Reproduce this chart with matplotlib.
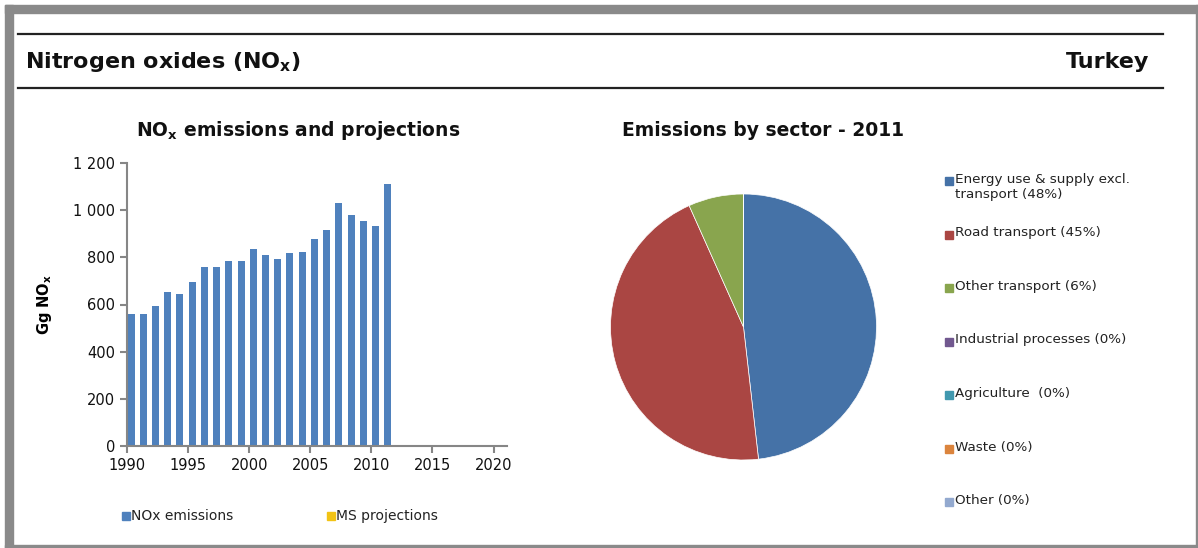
import numpy as np
import matplotlib
matplotlib.use("Agg")
import matplotlib.pyplot as plt
from matplotlib.patches import Rectangle
from matplotlib.lines import Line2D

# datos de la grafica de barras (Gg NOx)
years = list(range(1990, 2012))
nox = [559, 559, 594, 651, 645, 696, 757, 757, 784, 784, 835,
       808, 791, 817, 824, 877, 915, 1030, 980, 955, 933, 1112]
y_ticks = [0, 200, 400, 600, 800, 1000, 1200]
y_tick_labels = ["0", "200", "400", "600", "800", "1 000", "1 200"]
x_ticks = [1990, 1995, 2000, 2005, 2010, 2015, 2020]

# datos del pastel (2011)
sectors = ["Energy use & supply excl.\ntransport (48%)", "Road transport (45%)",
           "Other transport (6%)", "Industrial processes (0%)",
           "Agriculture  (0%)", "Waste (0%)", "Other (0%)"]
shares = [48.2, 45.1, 6.7, 0, 0, 0, 0]
sector_colors = ["#4572A7", "#AA4643", "#89A54E", "#71588F",
                 "#4198AF", "#DB843D", "#93A9CF"]

bar_color = "#4F81BD"
proj_color = "#F2C314"
axis_gray = "#868686"

W, H = 1198, 548
fig = plt.figure(figsize=(W / 100, H / 100), dpi=100)
plt.rcParams['font.family'] = ['DejaVu Sans']


def fx(px):
    return px / W


def fy(py):
    return 1 - py / H


# marco gris
border = "#8a8a8a"
fig.patches.append(Rectangle((fx(5), fy(13)), fx(1198 - 5), 8 / H, transform=fig.transFigure,
                             color=border, zorder=0))
fig.patches.append(Rectangle((fx(5), fy(548)), 8 / W, (548 - 5) / H, transform=fig.transFigure,
                             color=border, zorder=0))
fig.patches.append(Rectangle((fx(1196), fy(548)), 2 / W, (548 - 5) / H, transform=fig.transFigure,
                             color=border, zorder=0))
fig.patches.append(Rectangle((fx(5), fy(548)), fx(1198 - 5), 3 / H, transform=fig.transFigure,
                             color=border, zorder=0))

# cabecera
for ly in (34, 88):
    fig.add_artist(Line2D([fx(18), fx(1163)], [fy(ly), fy(ly)], color="#222222", lw=1.6,
                          transform=fig.transFigure))
fig.text(fx(25), fy(62), r"Nitrogen oxides (NO$_\mathbf{x}$)", fontsize=16, fontweight="bold",
         ha="left", va="center", color="#111111")
fig.text(fx(1149), fy(62), "Turkey", fontsize=16, fontweight="bold",
         ha="right", va="center", color="#111111")

# grafica de barras
ax = fig.add_axes([fx(127), fy(446), (507 - 127) / W, (446 - 163) / H])
ax.bar(np.array(years) + 0.05, nox, width=0.57, align="edge", color=bar_color)
ax.set_xlim(1990, 2021.1)
ax.set_ylim(0, 1200)
ax.set_yticks(y_ticks)
ax.set_yticklabels(y_tick_labels)
ax.set_xticks(x_ticks)
for s in ["top", "right"]:
    ax.spines[s].set_visible(False)
for s in ["left", "bottom"]:
    ax.spines[s].set_color(axis_gray)
    ax.spines[s].set_linewidth(1.5)
ax.tick_params(colors=axis_gray, labelcolor="#111111", labelsize=10.5, length=5, width=1.5)
ax.set_ylabel(r"Gg NO$_\mathbf{x}$", fontsize=10.5, fontweight="bold", labelpad=14)
fig.text(fx(298), fy(131), r"NO$_\mathbf{x}$ emissions and projections", fontsize=13.5,
         fontweight="bold", ha="center", va="center", color="#111111")

# leyenda barras
for px, col, lab in [(122, bar_color, "NOx emissions"), (327, proj_color, "MS projections")]:
    fig.patches.append(Rectangle((fx(px), fy(520)), 8 / W, 8 / H, transform=fig.transFigure,
                                 color=col))
    fig.text(fx(px + 9), fy(516), lab, fontsize=10, ha="left", va="center", color="#222222")

# pastel
r = 133
ax2 = fig.add_axes([fx(743.5 - r), fy(327 + r), 2 * r / W, 2 * r / H])
ax2.pie(shares, colors=sector_colors, startangle=90, counterclock=False,
        wedgeprops=dict(edgecolor="white", linewidth=0.5))
ax2.set_xlim(-1, 1)
ax2.set_ylim(-1, 1)
fig.text(fx(763), fy(130), "Emissions by sector - 2011", fontsize=13.5, fontweight="bold",
         ha="center", va="center", color="#111111")

# leyenda pastel
for i, (lab, col) in enumerate(zip(sectors, sector_colors)):
    yc = 181 + i * 53.5
    fig.patches.append(Rectangle((fx(945), fy(yc + 4)), 8 / W, 8 / H, transform=fig.transFigure,
                                 color=col))
    fig.text(fx(955), fy(yc - 8), lab, fontsize=9.7, ha="left", va="top", color="#222222",
             linespacing=1.2)

fig.savefig("out.png", dpi=100)
